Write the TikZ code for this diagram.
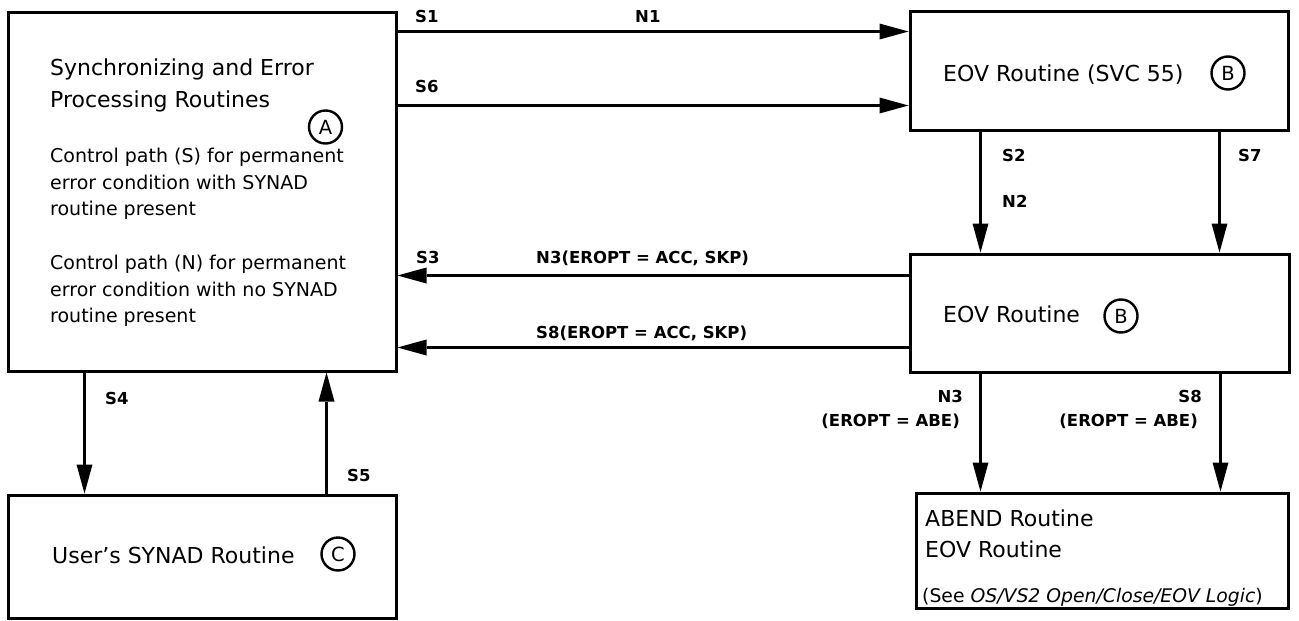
\documentclass[tikz,border=0pt]{standalone}
\usepackage{fontspec}
\setmainfont{DejaVu Sans}
\usetikzlibrary{arrows.meta,calc}
\newcommand\titlef{\fontsize{22}{26}\selectfont}
\newcommand\bodyf{\fontsize{19}{26.5}\selectfont}
\newcommand\labf{\fontsize{16.5}{19}\selectfont\bfseries}
\newcommand\notef{\fontsize{18.8}{22}\selectfont}
\newcommand\circf{\fontsize{19.5}{22}\selectfont}
\begin{document}
\begin{tikzpicture}[x=1pt,y=-1pt,
  box/.style={draw, rectangle, line width=3pt, inner sep=0pt},
  arr/.style={line width=3pt, -{Triangle[length=29pt,width=16pt,line width=0pt]}},
  ttl/.style={anchor=base west, inner sep=0pt, font=\titlef},
  body/.style={anchor=base west, inner sep=0pt, font=\bodyf},
  lab/.style={anchor=base west, inner sep=0pt, font=\labf},
  labr/.style={anchor=base east, inner sep=0pt, font=\labf},
  note/.style={anchor=base west, inner sep=0pt, font=\notef},
  circmark/.style={circle, draw, line width=2.4pt, minimum size=33pt, inner sep=0pt, font=\circf}]
\useasboundingbox (0,0) rectangle (1299,621);
\fill[white] (0,0) rectangle (1299,621);

% boxes
\node[box, minimum width=388pt, minimum height=359pt] (A) at (202,191.5) {};
\node[box, minimum width=378pt, minimum height=119pt] (B1) at (1099,70.5) {};
\node[box, minimum width=379pt, minimum height=118pt] (B2) at (1099.5,313) {};
\node[box, minimum width=388pt, minimum height=123pt] (C) at (202,556.5) {};
\node[box, minimum width=372pt, minimum height=115pt] (D) at (1102,550.5) {};

% texts in A
\node[ttl] (a1) at (50,75) {Synchronizing and Error};
\node[ttl] (a2) at (50,107) {Processing Routines};
\node[circmark] (ca) at (325.5,127) {A};
\node[body] (p1) at (50,162) {Control path (S) for permanent};
\node[body] (p2) at (50,189) {error condition with SYNAD};
\node[body] (p3) at (50,215) {routine present};
\node[body] (q1) at (50,269) {Control path (N) for permanent};
\node[body] (q2) at (50,296) {error condition with no SYNAD};
\node[body] (q3) at (50,322) {routine present};

% texts in B1, B2
\node[ttl] (b1) at (943,81) {EOV Routine (SVC 55)};
\node[circmark] (cb1) at (1228,73) {B};
\node[ttl] (b2) at (943,322) {EOV Routine};
\node[circmark] (cb2) at (1121,316) {B};

% text in C
\node[ttl] (c1) at (52,563) {User’s SYNAD Routine};
\node[circmark] (cc) at (338,554) {C};

% texts in D
\node[ttl] (d1) at (925,526) {ABEND Routine};
\node[ttl] (d2) at (925,557) {EOV Routine};
\node[note] (d3) at (922,602) {(See \textit{OS/VS2 Open/Close/EOV Logic})};

% connectors
\coordinate (s1) at ([yshift=-21pt]A.north east);
\draw[arr] (s1) -- (s1 -| B1.west);
\coordinate (s6) at ([yshift=-95pt]A.north east);
\draw[arr] (s6) -- (s6 -| B1.west);
\coordinate (s2) at ([xshift=72pt]B1.south west);
\draw[arr] (s2) -- (s2 |- B2.north);
\coordinate (s7) at ([xshift=311pt]B1.south west);
\draw[arr] (s7) -- (s7 |- B2.north);
\coordinate (n3) at ([yshift=-23pt]B2.north west);
\draw[arr] (n3) -- (n3 -| A.east);
\coordinate (s8) at ([yshift=-95pt]B2.north west);
\draw[arr] (s8) -- (s8 -| A.east);
\coordinate (s4) at ([xshift=78pt]A.south west);
\draw[arr] (s4) -- (s4 |- C.north);
\coordinate (s5) at ([xshift=320pt]C.north west);
\draw[arr] (s5) -- (s5 |- A.south);
\coordinate (n3d) at ([xshift=72pt]B2.south west);
\draw[arr] (n3d) -- (n3d |- D.north);
\coordinate (s8d) at ([xshift=312pt]B2.south west);
\draw[arr] (s8d) -- (s8d |- D.north);

% labels
\node[lab] (l1) at (415,22) {S1};
\node[lab] (l2) at (635,22) {N1};
\node[lab] (l3) at (415,92) {S6};
\node[lab] (l4) at (1002,161) {S2};
\node[lab] (l5) at (1002,207) {N2};
\node[lab] (l6) at (1238,161) {S7};
\node[lab] (l7) at (416,263) {S3};
\node[lab] (l8) at (536,263) {N3(EROPT = ACC, SKP)};
\node[lab] (l9) at (536,338) {S8(EROPT = ACC, SKP)};
\node[lab] (l10) at (105,404) {S4};
\node[lab] (l11) at (347,481) {S5};
\node[labr] (l12) at (963,402) {N3};
\node[labr] (l13) at (960,426) {(EROPT = ABE)};
\node[labr] (l14) at (1202,402) {S8};
\node[labr] (l15) at (1198,426) {(EROPT = ABE)};
\end{tikzpicture}
\end{document}
